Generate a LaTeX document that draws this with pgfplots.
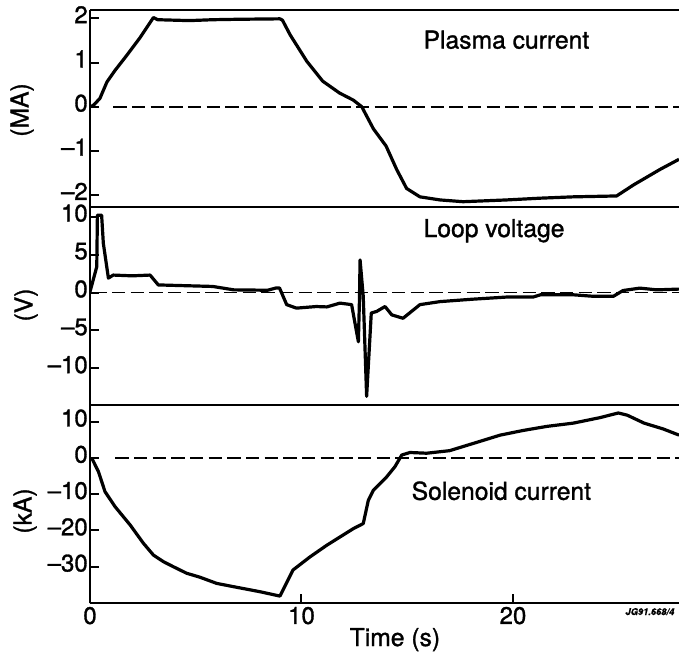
\documentclass[border=0pt]{standalone}
\usepackage{fontspec}
\setmainfont{TeX Gyre Heros}[FakeBold=1.2, UprightFeatures={FakeBold=1.2}]
\usepackage{pgfplots}
\pgfplotsset{compat=1.18}

\pgfplotsset{
  panel/.style={
    scale only axis,
    width=441.75pt,
    anchor=south west,
    xmin=0, xmax=27.85,
    axis x line=box, axis y line=left,
    axis line style={-, line width=1.5pt},
    every outer y axis line/.append style={-, line width=2.2pt},
    xtick pos=left, ytick pos=left,
    tick align=inside,
    major tick length=7pt,
    tick style={line width=1.5pt, black},
    ticklabel style={font=\fontsize{18}{20}\selectfont},
    yticklabel style={inner xsep=1.5pt, inner ysep=0pt, text height=0.72em, text depth=0pt},
    xticklabel style={inner sep=2.5pt},
  },
  trace/.style={black, no markers, line width=2.4pt, line join=round},
  zeroline/.style={black, no markers, line width=1.4pt, dash pattern=on 10pt off 4pt},
}

\begin{document}
\begin{tikzpicture}
\useasboundingbox (0,0) rectangle (509.25pt,-492.75pt);

% plasma current
\begin{axis}[panel, at={(67.5pt,-155.25pt)}, height=147.75pt,
  ymin=-2.27, ymax=2.19,
  xtick=\empty,
  ytick={-2,-1,0,1,2}, yticklabels={–2,–1,0,1,2}]
\addplot[zeroline] coordinates {(1.1,0) (27.85,0)};
\addplot[trace] coordinates {
(0.05,0) (0.2,0.05) (0.47,0.19) (0.8,0.56) (1.18,0.82) (1.75,1.17) (2.36,1.56)
(3.0,2.02) (3.2,1.97) (4.7,1.95) (5.8,1.97) (7.0,1.98) (8.98,1.99) (9.1,1.96)
(9.46,1.63) (10.25,1.03) (11.0,0.58) (11.8,0.31) (12.45,0.15) (12.85,0.0)
(13.4,-0.5) (14.0,-0.89) (14.5,-1.42) (14.97,-1.85) (15.6,-2.04) (16.55,-2.11)
(17.64,-2.15) (19.7,-2.11) (21.3,-2.07) (22.85,-2.04) (24.9,-2.02)
(25.7,-1.77) (26.95,-1.42) (27.85,-1.19)};
\node[anchor=base west, font=\fontsize{18.5}{20}\selectfont] at (rel axis cs:0.5584,0.8041) {Plasma current};
\end{axis}

% loop voltage
\begin{axis}[panel, at={(67.5pt,-303.75pt)}, height=148.5pt,
  ymin=-14.84, ymax=11.28,
  xtick=\empty,
  ytick={-10,-5,0,5,10}, yticklabels={–10,–5,0,5,10}]
\addplot[zeroline] coordinates {(0.15,0) (27.85,0)};
\addplot[trace] coordinates {
(0,0.1) (0.32,3.4) (0.35,10.2) (0.55,10.2) (0.63,6.5) (0.87,1.9) (1.1,2.3)
(2.0,2.2) (2.84,2.3) (3.23,1.0) (4.5,0.9) (5.8,0.8) (6.8,0.35) (8.4,0.3)
(8.8,0.6) (8.96,0.6) (9.3,-1.6) (9.76,-2.06) (10.7,-1.85) (11.2,-1.9)
(11.82,-1.4) (12.37,-1.6) (12.69,-6.5) (12.74,-1.0) (12.77,4.3) (12.92,-0.5)
(13.08,-13.7) (13.3,-2.7) (13.55,-2.5) (13.95,-1.85) (14.27,-2.95)
(14.8,-3.4) (15.6,-1.6) (16.55,-1.2) (18.1,-0.88) (19.7,-0.6) (20.95,-0.6)
(21.3,-0.3) (22.85,-0.3) (23.8,-0.5) (24.75,-0.5) (25.2,0.26) (26.0,0.58)
(26.8,0.35) (27.85,0.45)};
\node[anchor=base west, font=\fontsize{18.5}{20}\selectfont] at (rel axis cs:0.5584,0.8485) {Loop voltage};
\end{axis}

% solenoid current
\begin{axis}[panel, at={(67.5pt,-452.5pt)}, height=148.75pt,
  ymin=-40.1, ymax=14.6,
  xtick={0,10,20}, xticklabels={0,10,20},
  ytick={-30,-20,-10,0,10}, yticklabels={–30,–20,–10,0,10}]
\addplot[zeroline] coordinates {(1.2,0) (27.85,0)};
\addplot[trace] coordinates {
(0.08,0) (0.4,-3.8) (0.71,-9.3) (1.18,-13.4) (1.9,-18.5) (2.52,-23.5)
(3.0,-26.8) (3.47,-28.6) (3.94,-30.0) (4.57,-31.8) (5.2,-32.9) (5.99,-34.6)
(6.78,-35.5) (8.04,-36.9) (8.98,-38.1) (9.6,-30.9) (10.4,-27.3) (11.19,-24.1)
(11.82,-21.8) (12.45,-19.5) (12.92,-18.1) (13.16,-11.7) (13.4,-8.9)
(14.03,-5.2) (14.42,-2.4) (14.74,0.8) (15.13,1.5) (15.92,1.3) (17.0,2.0)
(18.12,4.0) (19.4,6.3) (20.5,7.6) (21.6,8.7) (22.85,9.6) (24.1,11.1)
(24.98,12.4) (25.4,11.8) (26.2,9.6) (27.1,8.0) (27.85,6.3)};
\node[anchor=base west, font=\fontsize{18.5}{20}\selectfont] at (rel axis cs:0.5382,0.5219) {Solenoid current};
\end{axis}

% axis labels
\node[rotate=90, font=\fontsize{18.5}{20}\selectfont] at (16.5pt,-82.5pt) {(MA)};
\node[rotate=90, font=\fontsize{18.5}{20}\selectfont] at (19.5pt,-228.75pt) {(V)};
\node[rotate=90, font=\fontsize{18.5}{20}\selectfont] at (18.75pt,-383.25pt) {(kA)};
\node[anchor=base west, font=\fontsize{18.5}{20}\selectfont] at (258.75pt,-484.5pt) {Time (s)};
\node[anchor=base east, font=\fontsize{7}{8}\selectfont\bfseries\itshape] at (509.25pt,-461.25pt) {JG91.668/4};
\end{tikzpicture}
\end{document}
